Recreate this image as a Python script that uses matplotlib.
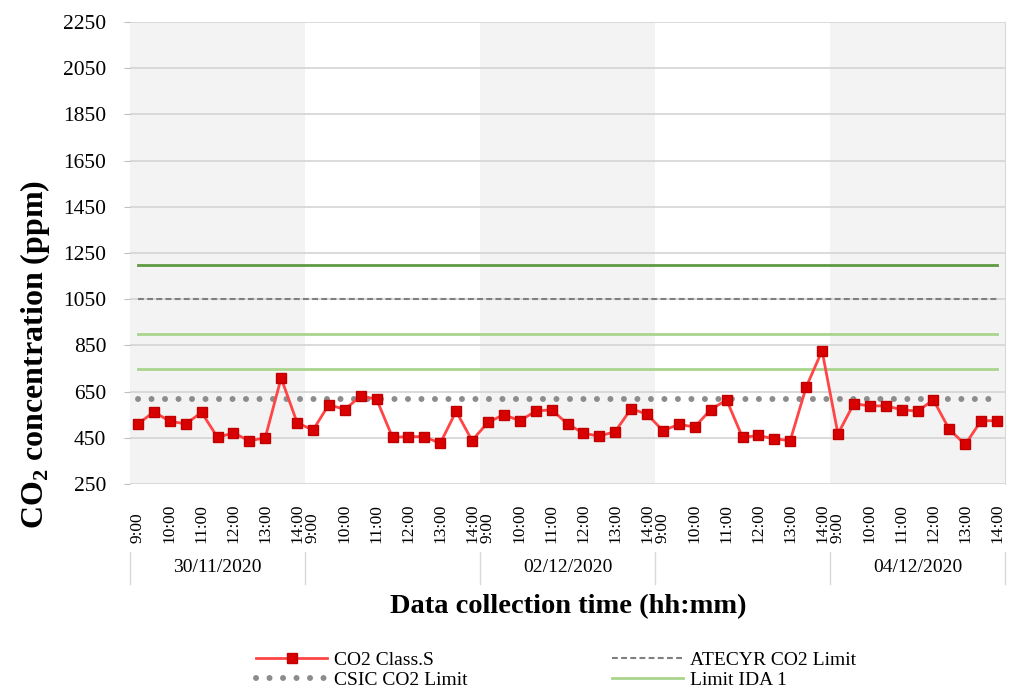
import matplotlib
matplotlib.use("Agg")
import matplotlib.pyplot as plt
from matplotlib.lines import Line2D
import matplotlib.transforms as mtransforms

plt.rcParams['font.family'] = ['Liberation Serif', 'DejaVu Serif']
plt.rcParams['mathtext.fontset'] = 'custom'
plt.rcParams['mathtext.rm'] = 'Liberation Serif'
plt.rcParams['mathtext.bf'] = 'Liberation Serif:bold'

# ---- data ----
days = ["30/11/2020", "01/12/2020", "02/12/2020", "03/12/2020", "04/12/2020"]
day_labels_shown = ["30/11/2020", "", "02/12/2020", "", "04/12/2020"]
times = ["9:00", "9:30", "10:00", "10:30", "11:00", "11:30", "12:00", "12:30", "13:00", "13:30", "14:00"]
time_labels = ["9:00", "", "10:00", "", "11:00", "", "12:00", "", "13:00", "", "14:00"]

co2_class_s = [
    510, 562, 522, 510, 560, 452, 471, 437, 450, 709, 516,
    483, 594, 572, 631, 617, 452, 455, 455, 426, 565, 438,
    517, 550, 524, 565, 572, 510, 470, 457, 477, 576, 552,
    481, 508, 497, 572, 614, 452, 460, 445, 438, 669, 827,
    467, 598, 588, 588, 572, 565, 614, 486, 421, 524, 524,
]
atecyr_limit = 1050
csic_limit = 620
ida1_limit = 750
ida_other_limits = [900, 1200]

y_ticks = list(range(250, 2251, 200))

n_per_day = len(times)
n = len(co2_class_s)
x = list(range(n))

# ---- figure ----
fig = plt.figure(figsize=(10.11, 6.91), dpi=100)
ax = fig.add_axes([130/1011, 1-484/691, 875/1011, 462/691])

ax.set_xlim(-0.5, n - 0.5)
ax.set_ylim(250, 2250)

# alternating day shading
for d in range(len(days)):
    if d % 2 == 0:
        ax.axvspan(d*n_per_day - 0.5, (d+1)*n_per_day - 0.5, color="#f3f3f3", zorder=0, lw=0)

ax.set_yticks(y_ticks)
ax.set_yticklabels([str(v) for v in y_ticks], fontsize=15.5)
ax.yaxis.grid(True, color="#d4d4d4", lw=1.2, zorder=1)
ax.set_axisbelow(True)
ax.tick_params(axis='y', length=4, color="#bfbfbf", pad=13)
ax.set_xticks([])
for s in ["left", "top", "bottom"]:
    ax.spines[s].set_visible(False)
ax.spines["right"].set_color("#d9d9d9")

# limit lines
ax.plot(x, [ida_other_limits[1]]*n, color="#5e9a43", lw=2, zorder=3)
ax.plot(x, [ida_other_limits[0]]*n, color="#a9d48e", lw=2, zorder=3)
l_ida, = ax.plot(x, [ida1_limit]*n, color="#a9d48e", lw=2, zorder=3, label="Limit IDA 1")
l_atecyr, = ax.plot(x, [atecyr_limit]*n, color="#7f7f7f", lw=1.5, ls=(0, (2.8, 1.6)), zorder=3,
                    label="ATECYR CO2 Limit")
l_csic, = ax.plot(x, [csic_limit]*n, color="#8c8c8c", lw=4.3, ls=(0, (0.01, 2.25)),
                  dash_capstyle="round", zorder=3, label="CSIC CO2 Limit")
l_co2, = ax.plot(x, co2_class_s, color="#ff4545", lw=2, marker="s", markersize=7.5,
                 markerfacecolor="#d80000", markeredgecolor="#c00000", zorder=4,
                 label="CO2 Class.S")

# x category labels (time + day)
btrans = mtransforms.blended_transform_factory(ax.transData, ax.transAxes)
for d in range(len(days)):
    for i, t in enumerate(time_labels):
        if t:
            ax.text(d*n_per_day + i, (484-543)/462, t, transform=btrans, rotation=90,
                    ha="center", va="bottom", fontsize=12.5, color="#000000")
    ax.text(d*n_per_day + (n_per_day-1)/2, (484-568)/462, day_labels_shown[d], transform=btrans,
            ha="center", va="center", fontsize=14)
for d in range(len(days)+1):
    xd = d*n_per_day - 0.5
    ax.add_line(Line2D([xd, xd], [(484-552)/462, (484-584)/462], transform=btrans,
                       color="#d9d9d9", lw=1, clip_on=False))

fig.text(568/1011, 1-607/691, "Data collection time (hh:mm)", ha="center", va="center",
         fontsize=20.5, fontweight="bold")
fig.text(35/1011, 1-355/691, r"CO$_\mathbf{2}$ concentration (ppm)", ha="center", va="center",
         rotation=90, fontsize=23, fontweight="bold")

leg = fig.legend(handles=[l_co2, l_csic, l_atecyr, l_ida], ncol=2, loc="center",
                 bbox_to_anchor=(556/1011, 1-670/691), frameon=False, fontsize=14,
                 handlelength=3.66, columnspacing=7.4, labelspacing=0.12, handletextpad=0.36,
                 borderpad=0.2)

fig.savefig("out.png", dpi=100)
